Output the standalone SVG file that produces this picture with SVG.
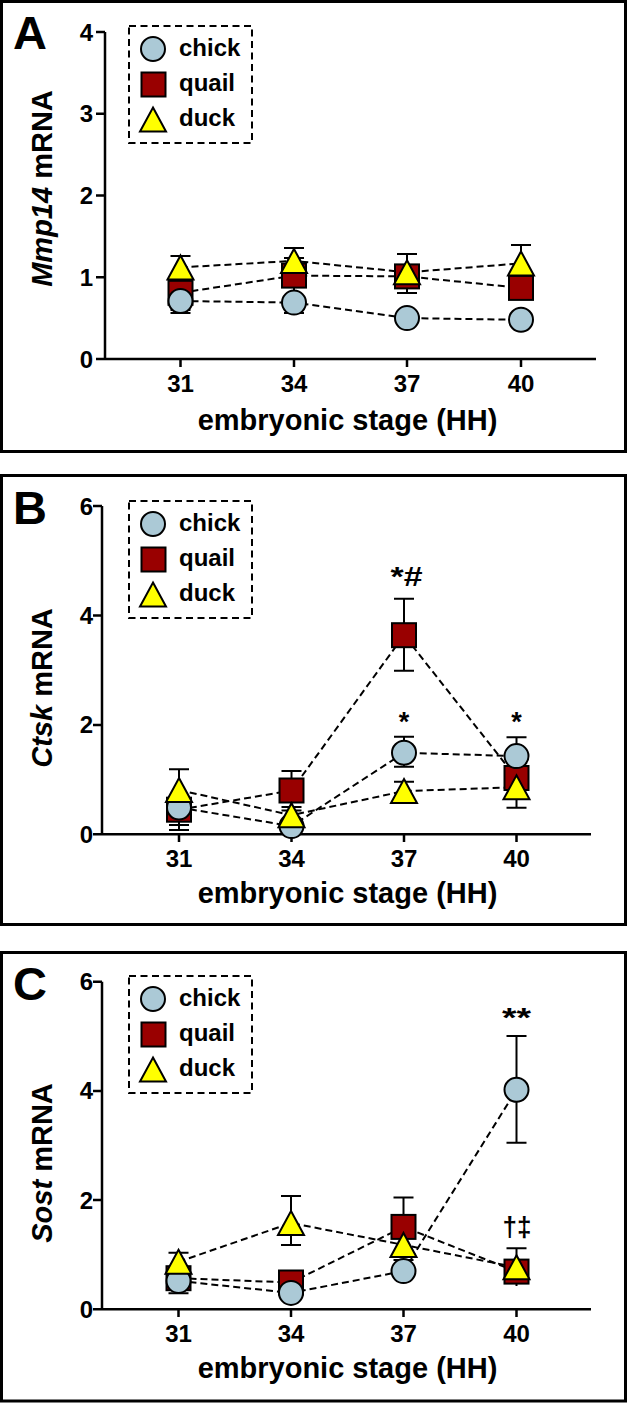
<svg xmlns="http://www.w3.org/2000/svg" xmlns:xlink="http://www.w3.org/1999/xlink" width="628" height="1403" viewBox="0 0 628 1403">
<style>
text{font-family:"Liberation Sans",Arial,sans-serif;font-weight:bold;fill:#000}
.frame{fill:none;stroke:#000;stroke-width:3}
.axis{fill:none;stroke:#000;stroke-width:2.5}
.eb{fill:none;stroke:#000;stroke-width:2}
.ln{fill:none;stroke:#000;stroke-width:2;stroke-dasharray:7 4}
.leg{fill:none;stroke:#000;stroke-width:2;stroke-dasharray:7 4.5}
.chick{fill:#abc9d6;stroke:#000;stroke-width:2}
.quail{fill:#990000;stroke:#000;stroke-width:2}
.duck{fill:#ffff00;stroke:#000;stroke-width:2}
.letter{font-size:47px}
.tick{font-size:24px}
.title{font-size:29px}
.legt{font-size:24px}
.sig{font-size:27px}
</style>
<defs>
<circle id="mC" class="chick" cx="0" cy="0" r="12"/>
<rect id="mQ" class="quail" x="-12" y="-12" width="24" height="24"/>
<polygon id="mD" class="duck" points="0,-12 13,12 -13,12"/>
</defs>

<!-- ================= Panel A ================= -->
<g id="panelA">
<rect class="frame" x="1.5" y="1.5" width="624" height="450"/>
<text class="letter" x="13" y="49">A</text>
<g id="axesA">
<path class="axis" d="M105 32V359M96 359H596M96 32H105M96 113.75H105M96 195.5H105M96 277.25H105M180.5 359V367M294 359V367M407 359V367M521 359V367"/>
<g class="tick" text-anchor="end">
<text x="93" y="367.5">0</text><text x="93" y="285.7">1</text><text x="93" y="204">2</text><text x="93" y="122.2">3</text><text x="93" y="40.5">4</text>
</g>
<g class="tick" text-anchor="middle">
<text x="180.5" y="392">31</text><text x="294" y="392">34</text><text x="407" y="392">37</text><text x="521" y="392">40</text>
</g>
<text class="title" x="347.5" y="430" text-anchor="middle">embryonic stage (HH)</text>
<text class="title" transform="translate(51.5,188.5) rotate(-90)" text-anchor="middle"><tspan font-style="italic">Mmp14</tspan> mRNA</text>
</g>
<g id="legendA">
<rect class="leg" x="129" y="26" width="123" height="117"/>
<use href="#mC" x="153" y="49"/><use href="#mQ" x="153.5" y="84.5"/><use href="#mD" x="153" y="119.5"/>
<text class="legt" x="179" y="56">chick</text><text class="legt" x="179" y="91">quail</text><text class="legt" x="179" y="126">duck</text>
</g>
<g id="connectorsA">
<path class="eb" d="M180.5 256V279M170.5 256H190.5M180.5 276V310M170.5 310H190.5M180.5 289V313M170.5 313H190.5
M294 248V274M284 248H304M294 258V293M284 258H304M294 292V313M284 313H304
M407 254V290M397 254H417M407 259V293M397 293H417
M521 245V282M511 245H531"/>
<polyline class="ln" points="180.5,292.8 294,275.6 407,276.4 521,287.9"/>
<polyline class="ln" points="180.5,301 294,302.6 407,318.1 521,319.8"/>
<polyline class="ln" points="180.5,267.4 294,260.9 407,272.3 521,263.4"/>
</g>
<g id="quailA"><use href="#mQ" x="180.5" y="292.8"/><use href="#mQ" x="294" y="275.6"/><use href="#mQ" x="407" y="276.4"/><use href="#mQ" x="521" y="287.9"/></g>
<g id="chickA"><use href="#mC" x="180.5" y="301"/><use href="#mC" x="294" y="302.6"/><use href="#mC" x="407" y="318.1"/><use href="#mC" x="521" y="319.8"/></g>
<g id="duckA"><use href="#mD" x="180.5" y="267.4"/><use href="#mD" x="294" y="260.9"/><use href="#mD" x="407" y="272.3"/><use href="#mD" x="521" y="263.4"/></g>
</g>

<!-- ================= Panel B ================= -->
<g id="panelB">
<rect class="frame" x="1.5" y="475.5" width="624" height="449"/>
<text class="letter" x="13" y="524">B</text>
<g id="axesB">
<path class="axis" d="M102 506V834.3M93 834.3H591M93 506H102M93 615.5H102M93 724.9H102M179 834.3V842M291.5 834.3V842M404 834.3V842M516.5 834.3V842"/>
<g class="tick" text-anchor="end">
<text x="93" y="842.8">0</text><text x="93" y="733.4">2</text><text x="93" y="624">4</text><text x="93" y="514.6">6</text>
</g>
<g class="tick" text-anchor="middle">
<text x="179" y="867">31</text><text x="291.5" y="867">34</text><text x="404" y="867">37</text><text x="516.5" y="867">40</text>
</g>
<text class="title" x="347.5" y="903" text-anchor="middle">embryonic stage (HH)</text>
<text class="title" transform="translate(51.5,688) rotate(-90)" text-anchor="middle"><tspan font-style="italic">Ctsk</tspan> mRNA</text>
</g>
<g id="legendB">
<rect class="leg" x="129" y="501" width="123" height="117"/>
<use href="#mC" x="153" y="524"/><use href="#mQ" x="153.5" y="559.5"/><use href="#mD" x="153" y="594.5"/>
<text class="legt" x="179" y="531">chick</text><text class="legt" x="179" y="566">quail</text><text class="legt" x="179" y="601">duck</text>
</g>
<g id="connectorsB">
<path class="eb" d="M179 769.3V810.7M169 769.3H189M179 789V830M169 830H189M179 790V825M169 825H189
M291.5 771V810.5M281.5 771H301.5M281.5 810.5H301.5M291.5 807V823M281.5 807H301.5
M404 598.7V670.7M394 598.7H414M394 670.7H414M404 736.7V766.7M394 736.7H414M394 766.7H414M404 781.7V800.5M394 781.7H414
M516.5 737.3V775M506.5 737.3H526.5M516.5 767V807.7M506.5 807.7H526.5"/>
<polyline class="ln" points="179,809.7 291.5,790.5 404,635.2 516.5,778"/>
<polyline class="ln" points="179,807.5 291.5,826.1 404,752.8 516.5,756.1"/>
<polyline class="ln" points="179,790 291.5,815.2 404,791.1 516.5,787.3"/>
</g>
<g id="quailB"><use href="#mQ" x="179" y="809.7"/><use href="#mQ" x="291.5" y="790.5"/><use href="#mQ" x="404" y="635.2"/><use href="#mQ" x="516.5" y="778"/></g>
<g id="chickB"><use href="#mC" x="179" y="807.5"/><use href="#mC" x="291.5" y="826.1"/><use href="#mC" x="404" y="752.8"/><use href="#mC" x="516.5" y="756.1"/></g>
<g id="duckB"><use href="#mD" x="179" y="790"/><use href="#mD" x="291.5" y="815.2"/><use href="#mD" x="404" y="791.1"/><use href="#mD" x="516.5" y="787.3"/></g>
<g class="sig" text-anchor="middle">
<text x="406.5" y="586" textLength="32" lengthAdjust="spacingAndGlyphs">*#</text>
<text x="404" y="731">*</text>
<text x="516.5" y="731">*</text>
</g>
</g>

<!-- ================= Panel C ================= -->
<g id="panelC">
<rect class="frame" x="1.5" y="952.5" width="624" height="448.5"/>
<text class="letter" x="13" y="1000">C</text>
<g id="axesC">
<path class="axis" d="M102 981.7V1309.3M93 1309.3H591M93 981.7H102M93 1090.9H102M93 1200.1H102M178.5 1309.3V1317M291 1309.3V1317M403.5 1309.3V1317M516.5 1309.3V1317"/>
<g class="tick" text-anchor="end">
<text x="93" y="1317.8">0</text><text x="93" y="1208.6">2</text><text x="93" y="1099.4">4</text><text x="93" y="990.2">6</text>
</g>
<g class="tick" text-anchor="middle">
<text x="178.5" y="1342">31</text><text x="291" y="1342">34</text><text x="403.5" y="1342">37</text><text x="516.5" y="1342">40</text>
</g>
<text class="title" x="347.5" y="1378" text-anchor="middle">embryonic stage (HH)</text>
<text class="title" transform="translate(51.5,1163) rotate(-90)" text-anchor="middle"><tspan font-style="italic">Sost</tspan> mRNA</text>
</g>
<g id="legendC">
<rect class="leg" x="129" y="976" width="123" height="117"/>
<use href="#mC" x="153" y="999"/><use href="#mQ" x="153.5" y="1034.5"/><use href="#mD" x="153" y="1069.5"/>
<text class="legt" x="179" y="1006">chick</text><text class="legt" x="179" y="1041">quail</text><text class="legt" x="179" y="1076">duck</text>
</g>
<g id="connectorsC">
<path class="eb" d="M178.5 1252.7V1271M168.5 1252.7H188.5M178.5 1265V1291M178.5 1268.5V1293.3M168.5 1293.3H188.5
M291 1196V1245M281 1196H301M281 1245H301
M403.5 1197.5V1256.3M393.5 1197.5H413.5M403.5 1260V1282M393.5 1260H413.5
M516.5 1036V1142.7M506.5 1036H526.5M506.5 1142.7H526.5M516.5 1248.3V1286M506.5 1248.3H526.5"/>
<polyline class="ln" points="178.5,1278.2 291,1282.5 403.5,1226.9 516.5,1271.6"/>
<polyline class="ln" points="178.5,1280.9 291,1292.9 403.5,1271.1 516.5,1089.8"/>
<polyline class="ln" points="178.5,1261.8 291,1223 403.5,1244.9 516.5,1267.3"/>
</g>
<g id="quailC"><use href="#mQ" x="178.5" y="1278.2"/><use href="#mQ" x="291" y="1282.5"/><use href="#mQ" x="403.5" y="1226.9"/><use href="#mQ" x="516.5" y="1271.6"/></g>
<g id="chickC"><use href="#mC" x="178.5" y="1280.9"/><use href="#mC" x="291" y="1292.9"/><use href="#mC" x="403.5" y="1271.1"/><use href="#mC" x="516.5" y="1089.8"/></g>
<g id="duckC"><use href="#mD" x="178.5" y="1261.8"/><use href="#mD" x="291" y="1223"/><use href="#mD" x="403.5" y="1244.9"/><use href="#mD" x="516.5" y="1267.3"/></g>
<g class="sig" text-anchor="middle">
<text x="516.5" y="1027" textLength="29" lengthAdjust="spacingAndGlyphs">**</text>
<text x="517" y="1236" textLength="29" lengthAdjust="spacingAndGlyphs">†‡</text>
</g>
</g>
</svg>
